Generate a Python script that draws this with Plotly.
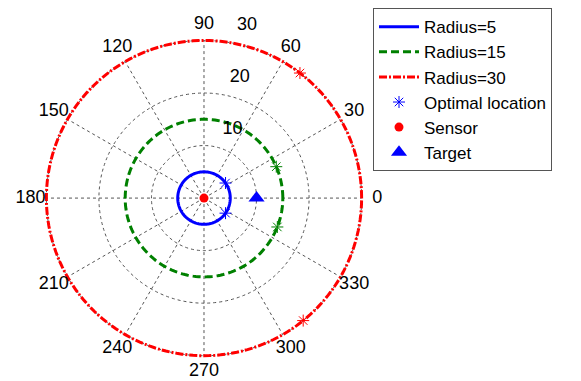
import numpy as np
import plotly.graph_objects as go

# Data
circle_radii = [5, 15, 30]
circle_names = ["Radius=5", "Radius=15", "Radius=30"]
circle_colors = ["#0000ff", "#008000", "#ff0000"]
circle_dashes = ["solid", "8px,4px", "8px,2px,2px,2px"]
theta_circle = list(range(0, 361, 2))

opt_r = [5, 5, 15, 15, 30, 30]
opt_theta = [35, -35, 23.5, -21.5, 52.5, -51]
opt_colors = ["#0000ff", "#0000ff", "#008000", "#008000", "#ff0000", "#ff0000"]

sensor_r, sensor_theta = [0], [0]
target_r, target_theta = [10], [0]

r_max = 30
label_r = 1.1 * r_max          # MATLAB puts angle labels at 1.1 * rmax
radial_ticks = [10, 20, 30]
radial_label_angle = 82
angular_ticks = list(range(0, 360, 30))
angular_labels = [str(t) for t in angular_ticks]

fig = go.Figure()

# spokes (angular grid) from centre to r_max
spoke_r, spoke_t = [], []
for t in angular_ticks:
    spoke_r += [0, r_max, None]
    spoke_t += [t, t, None]
fig.add_trace(go.Scatterpolar(r=spoke_r, theta=spoke_t, mode="lines", showlegend=False,
                              hoverinfo="skip", line=dict(color="#555555", width=1, dash="dot")))

for r, name, c, d in zip(circle_radii, circle_names, circle_colors, circle_dashes):
    fig.add_trace(go.Scatterpolar(r=[r] * len(theta_circle), theta=theta_circle, mode="lines",
                                  name=name, line=dict(color=c, width=3, dash=d)))

for i in range(0, len(opt_r), 2):
    fig.add_trace(go.Scatterpolar(r=opt_r[i:i + 2], theta=opt_theta[i:i + 2], mode="markers",
                                  name="Optimal location", showlegend=(i == 0),
                                  marker=dict(symbol="asterisk-open", size=10, color=opt_colors[i],
                                              line=dict(color=opt_colors[i], width=1))))

fig.add_trace(go.Scatterpolar(r=sensor_r, theta=sensor_theta, mode="markers", name="Sensor",
                              marker=dict(symbol="circle", size=9, color="#ff0000")))
fig.add_trace(go.Scatterpolar(r=target_r, theta=target_theta, mode="markers", name="Target",
                              marker=dict(symbol="triangle-up", size=14, color="#0000ff")))

# radial tick labels, MATLAB-style: beside each ring at 82 degrees
fig.add_trace(go.Scatterpolar(r=[t + 1.5 for t in radial_ticks],
                              theta=[radial_label_angle] * len(radial_ticks),
                              mode="text", text=["\u00a0\u00a0" + str(t) for t in radial_ticks],
                              textposition="top right", textfont=dict(size=18, color="black"),
                              showlegend=False, cliponaxis=False, hoverinfo="skip"))
# angular tick labels, centred at 1.1 * r_max
fig.add_trace(go.Scatterpolar(r=[label_r] * len(angular_ticks), theta=angular_ticks,
                              mode="text", text=angular_labels, textposition="middle center",
                              textfont=dict(size=18, color="black"),
                              showlegend=False, cliponaxis=False, hoverinfo="skip"))

# page body has an 8px margin, so compensate
W, H = 581, 381
off = 8
cx, cy, R30 = 204 - off, 194 - off, 161     # pixel radius of r = 30
R = R30 * label_r / r_max                   # polar area extends to label radius
fig.update_layout(
    width=W, height=H,
    margin=dict(l=0, r=0, t=0, b=0),
    paper_bgcolor="white", plot_bgcolor="white",
    font=dict(family="Liberation Sans, Arial", size=18, color="black"),
    polar=dict(
        domain=dict(x=[(cx - R) / W, (cx + R) / W], y=[(H - cy - R) / H, (H - cy + R) / H]),
        bgcolor="white",
        radialaxis=dict(range=[0, label_r], tickvals=radial_ticks, angle=radial_label_angle,
                        showticklabels=False, showline=False, ticks="",
                        gridcolor="#555555", griddash="dot", gridwidth=1),
        angularaxis=dict(tickvals=angular_ticks, direction="counterclockwise", rotation=0,
                         showticklabels=False, showline=False, ticks="", showgrid=False),
    ),
    legend=dict(x=(373 - off) / W, y=1.0 + off / H, xanchor="left", yanchor="top",
                bordercolor="#555555", borderwidth=1, bgcolor="white",
                font=dict(size=17), itemwidth=40, tracegroupgap=0),
    showlegend=True,
)

fig.write_html("out.html")
